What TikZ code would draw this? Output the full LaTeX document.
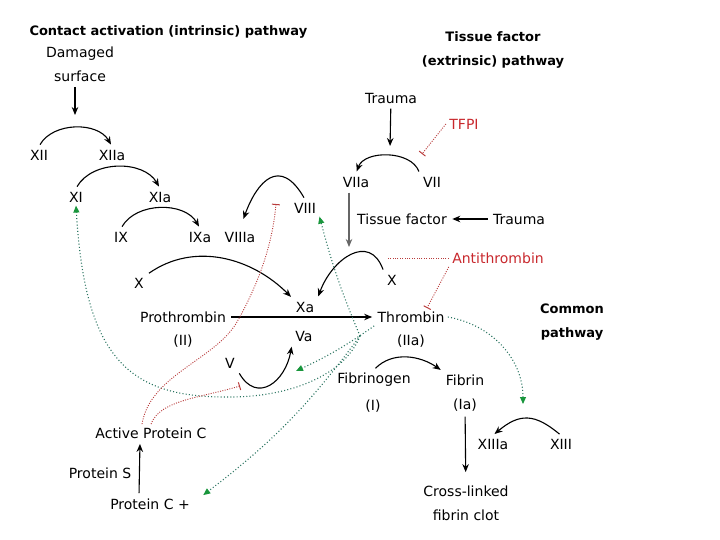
\documentclass[tikz,border=0pt]{standalone}
\usepackage{fontspec}
\setmainfont{DejaVu Sans}
\usetikzlibrary{arrows.meta,positioning}

\definecolor{inhib}{RGB}{185,60,60}
\definecolor{inhibtext}{RGB}{200,40,45}
\definecolor{feed}{RGB}{40,115,95}
\definecolor{feedtip}{RGB}{25,150,60}

\begin{document}
\begin{tikzpicture}[x=1pt,y=-1pt,>={Stealth[length=8pt,width=6.5pt]},
	every node/.style={font=\fontsize{14}{24}\selectfont,inner sep=1.5pt,outer sep=2pt},
	heading/.style={font=\bfseries\fontsize{13}{24}\selectfont,align=center},
	conv/.style={->,line width=1.1pt,shorten <=2pt,shorten >=2pt},
	feedback/.style={feed,line width=1.1pt,dash pattern=on 1pt off 2.2pt,-{Triangle[length=7pt,width=6pt,color=feedtip]}},
	block/.style={inhib,line width=0.9pt,dash pattern=on 1pt off 1.4pt,-{Bar[width=8pt,line width=1pt]}}]
	\useasboundingbox (0,0) rectangle (720,540);
	% intrinsic
	\node[heading,anchor=west] (intrinsic) at (26,32) {Contact activation (intrinsic) pathway};
	\node[align=center] (damaged) at (80,64) {Damaged\\surface};
	\node (xii) at (39,155) {XII};
	\node (xiia) at (112,155) {XIIa};
	\node (xi) at (76,197) {XI};
	\node (xia) at (160,197) {XIa};
	\node (ix) at (121,237) {IX};
	\node (ixa) at (200,237) {IXa};
	\node (viiia) at (240,237) {VIIIa};
	\node (viii) at (305,208) {VIII};
	\node (xl) at (139,283) {X};
	\node (proth) at (183,317) {Prothrombin};
	\node (ii) at (183,341) {(II)};
	\node (xa) at (305,307) {Xa};
	\node (va) at (304,336) {Va};
	\node (v) at (230,363) {V};
	% extrinsic
	\node[heading] (extrinsic) at (493,50) {Tissue factor\\(extrinsic) pathway};
	\node (traumaa) at (391,98) {Trauma};
	\node[text=inhibtext] (tfpi) at (464,124) {TFPI};
	\node (viia) at (356,182) {VIIa};
	\node (vii) at (432,182) {VII};
	\node (tf) at (402,219) {Tissue factor};
	\node (traumab) at (519,219) {Trauma};
	\node[text=inhibtext] (antithrombin) at (498,258) {Antithrombin};
	\node (xr) at (392,280) {X};
	% common
	\node (thrombin) at (411,317) {Thrombin};
	\node (iia) at (411,341) {(IIa)};
	\node[heading] (common) at (572,322) {Common\\pathway};
	\node (fibrinogen) at (374,380) {Fibrinogen};
	\node (i) at (373,406) {(I)};
	\node (fibrin) at (465,380) {Fibrin};
	\node (ia) at (465,405) {(Ia)};
	\node (xiiia) at (493,444) {XIIIa};
	\node (xiii) at (561,444) {XIII};
	\node[align=center] (clot) at (466,503) {Cross-linked\\fibrin clot};
	% protein C
	\node (apc) at (151,433) {Active Protein C};
	\node (ps) at (100,473) {Protein S};
	\node (pc) at (150,504) {Protein C +};

	\coordinate (xii arc) at (75,117);
	\coordinate (vii arc) at (390,148);
	\coordinate (xa arc) at (349,249);
	\coordinate (v arc) at (296,371);
	\coordinate (xiii arc) at (523,404);
	\coordinate (thr) at (360,336);
	\coordinate (vii block) at (422,154);
	\coordinate (x block) at (387,258);
	\coordinate (viii block) at (276,204);
	\coordinate (v block) at (240,386);

	\path[conv]
	(xii.north) edge [out=60,in=120] (xiia.north)
	(xi.north) edge [out=60,in=120] (xia.north)
	(ix.north) edge [out=60,in=120] (ixa.north)
	(viii.north) edge [out=120,in=70,looseness=1.8,shorten >=10pt] (viiia.north)
	(xl.north east) edge [out=35,in=135] (xa.north west)
	(xr.north west) edge [out=110,in=70,looseness=1.5] (xa.north east)
	(vii.north west) edge [out=110,in=70] (viia.north)
	(v.south east) edge [out=-60,in=-100,looseness=1.6] (va.south west)
	(fibrinogen.north) edge [out=45,in=145] (fibrin.north west)
	(xiii.north) edge [out=140,in=40,looseness=1.3] (xiiia.north);
	\draw[conv] (damaged.south -| xii arc) -- (xii arc);
	\draw[conv] (traumaa) -- (vii arc);
	\draw[conv,gray!80!black] (viia.south -| xa arc) -- (xa arc);
	\draw[conv] (traumab) -- (tf);
	\draw[conv] (proth) -- (thrombin);
	\draw[conv,shorten >=10pt] (ia) -- (clot);
	\draw[conv] ([xshift=-11pt]pc.north) -- ([xshift=-11pt]apc.south);

	\draw[feedback] (thr) .. controls (345,375) and (290,397) .. (230,397)
	.. controls (130,398) and (85,360) .. (xi.south);
	\draw[feedback] (thr) to[bend left=4] (viii.south east);
	\draw[feedback] (thrombin.south west) to[bend left=5] (v arc);
	\draw[feedback] (thr) to[bend left=8] ([xshift=10pt]pc.north east);
	\draw[feedback] (thrombin.east) to[out=-10,in=90] (xiii arc);

	\draw[block] (tfpi.west) -- (vii block);
	\draw[block,-] (antithrombin.west) -- (x block);
	\draw[block] (antithrombin.south west) -- ([xshift=16pt]thrombin.north);
	\draw[block] ([xshift=-9pt]apc.north) .. controls (150,375) and (215,360) .. (237,322)
	.. controls (255,290) and (272,250) .. (viii block);
	\draw[block] (apc.north) .. controls (160,400) and (200,398) .. (v block);
\end{tikzpicture}
\end{document}
